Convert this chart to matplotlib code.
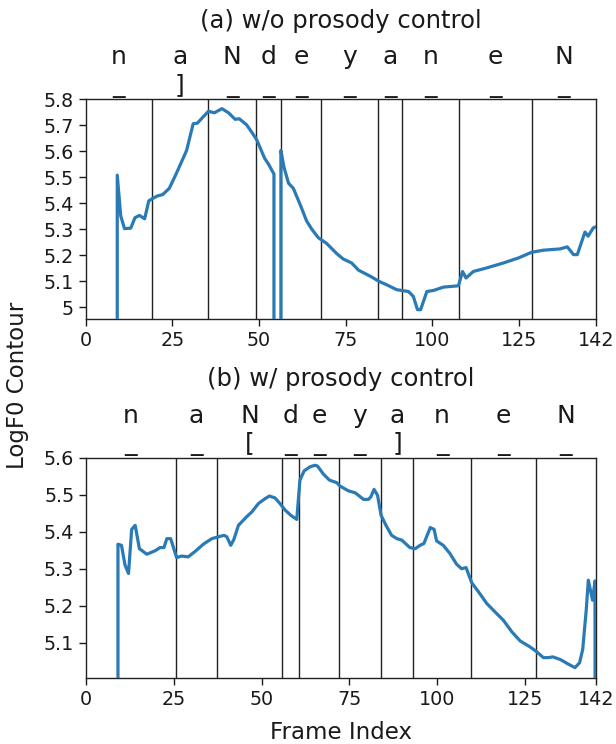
import matplotlib
matplotlib.use("Agg")
import matplotlib.pyplot as plt
from matplotlib import transforms

# ---------------- data ----------------
top_title = "(a) w/o prosody control"
bot_title = "(b) w/ prosody control"

top_x = [9.1, 9.1, 10.1, 11.2, 13.0, 14.2, 15.5, 17.0, 18.2, 19.3, 20.7, 22.2, 24.1, 26.2, 29.1,
         31.0, 32.2, 35.4, 37.1, 39.3, 41.2, 43.1, 44.3, 46.4, 47.9, 49.3, 51.6, 52.7, 54.3, 54.3,
         56.3, 56.3, 57.2, 58.5, 59.9, 62.0, 63.7, 65.2, 67.1, 69.5, 72.4, 74.3, 76.7, 78.7, 82.2,
         84.6, 86.8, 89.7, 93.1, 94.5, 95.7, 96.6, 98.4, 100.3, 103.2, 107.5, 108.7, 109.7, 111.8,
         115.7, 120.5, 124.8, 128.6, 132.0, 136.8, 138.9, 140.7, 141.8, 144.0, 144.9, 146.4, 147.1]
top_f0 = [4.0, 5.508, 5.351, 5.302, 5.304, 5.344, 5.353, 5.340, 5.409, 5.418, 5.428, 5.433, 5.457,
          5.516, 5.603, 5.706, 5.708, 5.754, 5.748, 5.764, 5.748, 5.723, 5.725, 5.702, 5.673, 5.645,
          5.573, 5.551, 5.512, 4.0, 4.0, 5.603, 5.538, 5.477, 5.457, 5.390, 5.332, 5.300, 5.267,
          5.245, 5.206, 5.185, 5.170, 5.142, 5.118, 5.099, 5.086, 5.067, 5.060, 5.041, 4.990, 4.990,
          5.060, 5.064, 5.077, 5.082, 5.137, 5.112, 5.137, 5.151, 5.170, 5.189, 5.211, 5.219, 5.224,
          5.232, 5.202, 5.202, 5.289, 5.273, 5.305, 5.309]

bot_x = [9.1, 9.1, 10.1, 11.1, 12.1, 13.0, 14.0, 15.2, 17.3, 19.6, 21.1, 22.2, 23.0, 24.1, 25.8,
         27.2, 29.1, 31.0, 33.4, 35.8, 37.7, 39.3, 40.1, 41.2, 42.1, 43.4, 45.7, 47.2, 49.1, 51.0,
         52.2, 53.8, 55.2, 56.7, 58.3, 60.0, 60.9, 62.1, 63.8, 65.2, 65.9, 67.6, 69.3, 71.4, 72.3,
         74.7, 76.6, 79.0, 80.4, 81.1, 82.0, 83.0, 84.0, 85.4, 87.0, 88.5, 89.9, 92.2, 93.7, 95.1,
         96.2, 98.0, 99.1, 99.8, 101.7, 103.6, 105.5, 106.9, 108.2, 109.8, 111.7, 114.1, 116.9,
         118.8, 121.2, 123.6, 126.4, 128.3, 130.2, 131.6, 132.9, 135.0, 137.4, 139.2, 140.5, 141.4,
         142.4, 143.0, 144.2, 144.9, 145.0]
bot_f0 = [4.0, 5.366, 5.363, 5.310, 5.287, 5.406, 5.417, 5.354, 5.339, 5.348, 5.357, 5.357, 5.381,
          5.381, 5.330, 5.334, 5.332, 5.346, 5.366, 5.381, 5.386, 5.390, 5.386, 5.363, 5.379, 5.417,
          5.440, 5.453, 5.476, 5.489, 5.496, 5.491, 5.476, 5.458, 5.444, 5.433, 5.539, 5.564, 5.575,
          5.579, 5.577, 5.555, 5.539, 5.532, 5.523, 5.510, 5.505, 5.487, 5.487, 5.494, 5.514, 5.498,
          5.444, 5.417, 5.390, 5.381, 5.377, 5.357, 5.354, 5.363, 5.368, 5.411, 5.406, 5.375, 5.363,
          5.341, 5.312, 5.300, 5.303, 5.262, 5.238, 5.206, 5.179, 5.161, 5.130, 5.105, 5.089, 5.076,
          5.060, 5.060, 5.062, 5.055, 5.042, 5.033, 5.046, 5.082, 5.188, 5.269, 5.215, 5.267, 4.0]

top_bounds = [19.0, 35.3, 49.2, 56.3, 68.0, 84.4, 91.2, 107.6, 128.6]
bot_bounds = [25.6, 37.2, 55.9, 60.6, 72.1, 83.9, 93.2, 109.5, 128.1]
top_xmax = 147.1
bot_xmax = 145.1

top_ph1 = ["n", "a", "N", "d", "e", "y", "a", "n", "e", "N"]
top_ph2 = ["_", "]", "_", "_", "_", "_", "_", "_", "_", "_"]
bot_ph1 = ["n", "a", "N", "d", "e", "y", "a", "n", "e", "N"]
bot_ph2 = ["_", "_", "[", "_", "_", "_", "]", "_", "_", "_"]

top_yticks = [5.0, 5.1, 5.2, 5.3, 5.4, 5.5, 5.6, 5.7, 5.8]
top_ylabels = ["5", "5.1", "5.2", "5.3", "5.4", "5.5", "5.6", "5.7", "5.8"]
top_ylim = (4.953, 5.8)
bot_yticks = [5.1, 5.2, 5.3, 5.4, 5.5, 5.6]
bot_ylabels = ["5.1", "5.2", "5.3", "5.4", "5.5", "5.6"]
bot_ylim = (5.0056, 5.6)
xtick_vals = [0, 25, 50, 75, 100, 125]
xtick_last_label = "142"

# ---------------- plotting ----------------
W, H = 616, 744
fig = plt.figure(figsize=(W / 100, H / 100), dpi=100)

LINE_C = "#2a7ab5"
TXT_C = "#1a1a1a"


def draw(ax, xs, ys, bounds, xmax, ph1, ph2, yticks, ylabels, ylim, title):
    ax.plot(xs, ys, color=LINE_C, lw=2.3, solid_joinstyle="round", zorder=3)
    for b in bounds:
        ax.axvline(b, color="#222222", lw=1.0, zorder=2)
    ax.set_xlim(0, xmax)
    ax.set_ylim(*ylim)
    ax.set_xticks(xtick_vals + [xmax])
    ax.set_xticklabels([str(v) for v in xtick_vals] + [xtick_last_label])
    ax.set_yticks(yticks)
    ax.set_yticklabels(ylabels)
    ax.tick_params(labelsize=13.8, colors=TXT_C, length=5, width=1)
    for s in ax.spines.values():
        s.set_color("#222222")
        s.set_linewidth(1.0)
    edges = [0.0] + list(bounds) + [xmax]
    base = transforms.blended_transform_factory(ax.transData, ax.transAxes)
    t1 = transforms.offset_copy(base, fig=fig, x=0, y=25.2, units="points")
    t2 = transforms.offset_copy(base, fig=fig, x=0, y=5.5, units="points")
    for i in range(len(ph1)):
        c = 0.5 * (edges[i] + edges[i + 1])
        ax.text(c, 1.0, ph1[i], transform=t1, ha="center", va="baseline",
                fontsize=18, color=TXT_C)
        ax.text(c, 1.0, ph2[i], transform=t2, ha="center", va="baseline",
                fontsize=18, color=TXT_C)
    ax.set_title(title, fontsize=17.5, pad=51.5, color=TXT_C)


ax1 = fig.add_axes([85.7 / W, 1 - 319.3 / H, (595.7 - 85.7) / W, (319.3 - 99.3) / H])
draw(ax1, top_x, top_f0, top_bounds, top_xmax, top_ph1, top_ph2,
     top_yticks, top_ylabels, top_ylim, top_title)

ax2 = fig.add_axes([86.0 / W, 1 - 677.8 / H, (595.7 - 86.0) / W, (677.8 - 457.5) / H])
draw(ax2, bot_x, bot_f0, bot_bounds, bot_xmax, bot_ph1, bot_ph2,
     bot_yticks, bot_ylabels, bot_ylim, bot_title)

ax2.set_xlabel("Frame Index", fontsize=16.5, color=TXT_C, labelpad=9)
fig.text(18 / W, 1 - 385 / H, "LogF0 Contour", rotation=90, ha="center", va="center",
         fontsize=16.5, color=TXT_C)

fig.savefig("out.png", dpi=100)
